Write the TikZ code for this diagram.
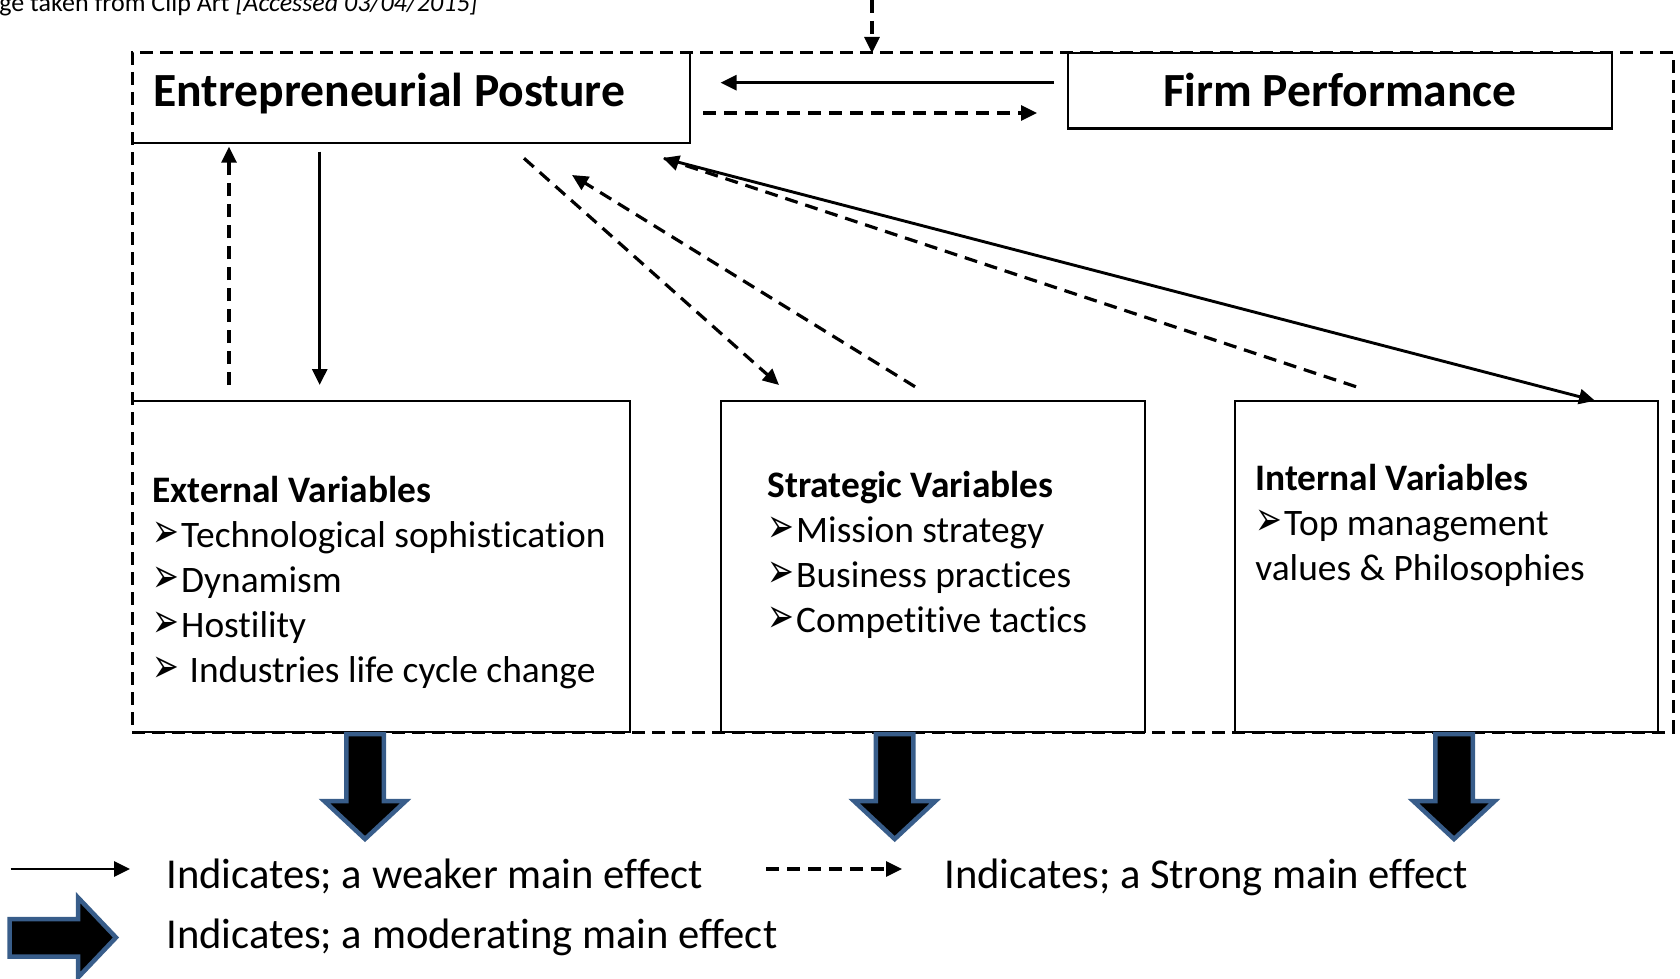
\documentclass[tikz,border=0pt]{standalone}
\usepackage{fontspec}
\setmainfont{Carlito}[Ligatures=CommonOff]
\newfontfamily\symfont{DejaVu Sans}
\usetikzlibrary{arrows.meta,fit}

\definecolor{shapeline}{HTML}{385D8A}

% arrowhead bullet used in the variable lists
\newcommand\bul{\scalebox{0.8}[1.2]{\symfont\fontsize{20pt}{20pt}\selectfont ➢}\kern1pt}

\begin{document}
\begin{tikzpicture}[x=0.5pt,y=-0.5pt,
  box/.style={inner sep=0pt, outer sep=0pt},
  boxline/.style={line width=1.15pt},
  frameline/.style={line width=1.5pt, dash pattern=on 6.5pt off 3.5pt},
  weak/.style={line width=1.45pt, -{Triangle[length=8pt,width=7.5pt]}},
  strong/.style={line width=1.6pt, dash pattern=on 6.5pt off 4pt, -{Triangle[length=8pt,width=7.5pt]}},
  title/.style={font=\fontsize{23.8pt}{28pt}\selectfont\bfseries, inner sep=0pt, anchor=base west},
  vartext/.style={font=\fontsize{18.7pt}{22.5pt}\selectfont, align=left, inner sep=0pt, anchor=base west},
  legend/.style={font=\fontsize{21.3pt}{25pt}\selectfont, inner sep=0pt, anchor=base west},
  blockarrow/.style={fill=black, draw=shapeline, line width=2.25pt, line join=miter},
  moddown/.pic={\draw[blockarrow] (-18.75,0) -- (18.75,0) -- (18.75,67) -- (40.75,67)
      -- (0,105) -- (-40.75,67) -- (-18.75,67) -- cycle;},
]
\useasboundingbox (0,0) rectangle (1680,979);

% source note, partly outside the page
\node[font=\fontsize{13pt}{15pt}\selectfont, anchor=base west, inner sep=0pt] (source) at (-1,12)
  {ge taken from Clip Art \textit{[Accessed 03/04/2015]}};

% outer dashed frame
\node[box, draw, frameline, fit={(132,53) (1673,732)}] (frame) {};

% top boxes
\node[box, fit={(132,53) (690,143)}] (ep) {};
\draw[boxline] (ep.north east) -- (ep.south east) -- (ep.south west);
\node[title] (ep-label) at (153,107) {Entrepreneurial Posture};

\node[box, draw, boxline, fill=white, fit={(1068,53) (1612,128.5)}] (fp) {};
\node[title, anchor=base] (fp-label) at (1340,107) {Firm Performance};

% variable boxes
\node[box, fit={(132,400.7) (630,732)}] (ext) {};
\draw[boxline] (ext.south west) -- (ext.south east) -- (ext.north east) -- (ext.north west);
\node[box, draw, boxline, fit={(721,400.7) (1145,732)}] (strat) {};
\node[box, draw, boxline, fit={(1235,400.7) (1658,732)}] (int) {};

% multi-line nodes sit on the baseline of their last line
\node[vartext] (ext-text) at (152,682.5) {\textbf{External Variables}\\
  \bul Technological sophistication\\
  \bul Dynamism\\
  \bul Hostility\\
  \bul\ Industries life cycle change};
\node[vartext] (strat-text) at (767,632.5) {\textbf{Strategic Variables}\\
  \bul Mission strategy\\
  \bul Business practices\\
  \bul Competitive tactics};
\node[vartext] (int-text) at (1255,580) {\textbf{Internal Variables}\\
  \bul Top management\\
  values \& Philosophies};

% connector end points
\coordinate (top-src) at (872,0);
\coordinate (fp-out) at (1054,82.7);
\coordinate (ep-in) at (720.5,82.7);
\coordinate (ep-out) at (703,113);
\coordinate (fp-in) at (1037,113);
\coordinate (ext-up) at (229,385);
\coordinate (ep-up) at (229,146.7);
\coordinate (ep-down) at (319.7,151.7);
\coordinate (ext-down) at (319.7,385);
\coordinate (ep-strat) at (524,158.3);
\coordinate (strat-in) at (779,385);
\coordinate (strat-out) at (915,386.7);
\coordinate (ep-from-strat) at (572,175);
\coordinate (int-out) at (1356,386.7);
\coordinate (ep-from-int) at (663,158);
\coordinate (ep-to-int) at (664,158.5);
\coordinate (int-in) at (1595,400.7);

\draw[strong] (top-src) -- (top-src |- frame.north);
\draw[weak] (fp-out) -- (ep-in);
\draw[strong] (ep-out) -- (fp-in);
\draw[strong] (ext-up) -- (ep-up);
\draw[weak] (ep-down) -- (ext-down);
\draw[strong] (ep-strat) -- (strat-in);
\draw[strong] (strat-out) -- (ep-from-strat);
\draw[strong] (int-out) -- (ep-from-int);
\draw[weak] (ep-to-int) -- (int-in);

% moderating effects
\pic at (365,734) {moddown};
\pic at (894.7,734) {moddown};
\pic at (1454,734) {moddown};

% legend
\coordinate (lg-weak-s) at (10.7,869);
\coordinate (lg-weak-e) at (130,869);
\coordinate (lg-strong-s) at (766,869);
\coordinate (lg-strong-e) at (902,869);
\draw[weak] (lg-weak-s) -- (lg-weak-e);
\node[legend] (lg-weak) at (166,888) {Indicates; a weaker main effect};
\draw[strong] (lg-strong-s) -- (lg-strong-e);
\node[legend] (lg-strong) at (944,888) {Indicates; a Strong main effect};
\draw[blockarrow] (9.5,919) -- (78,919) -- (78,897.5) -- (116,937.5) -- (78,977.5)
  -- (78,956.5) -- (9.5,956.5) -- cycle;
\node[legend] (lg-mod) at (166,948) {Indicates; a moderating main effect};
\end{tikzpicture}
\end{document}
